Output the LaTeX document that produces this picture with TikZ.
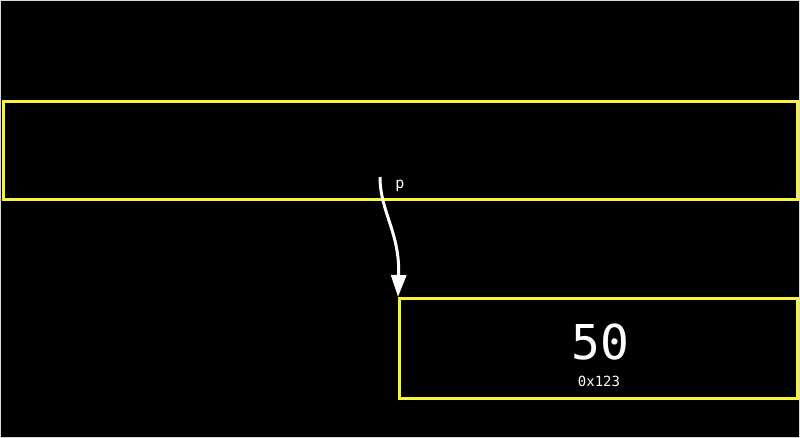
\documentclass[tikz,border=0pt]{standalone}
\usepackage{fontspec}
\setmonofont{DejaVu Sans Mono}
\usetikzlibrary{arrows.meta}
\definecolor{boxyellow}{HTML}{F8F43C}
\tikzset{
  membox/.style={draw=boxyellow, line width=3pt, fill=black, inner sep=0pt},
  ptrarrow/.style={draw=white, line width=3pt, -{Triangle[length=22pt,width=15pt]}},
  lbl/.style={text=white, font=\ttfamily, inner sep=0pt}
}
\begin{document}
\begin{tikzpicture}[x=1pt,y=-1pt]
\fill[black] (0,0) rectangle (800,438);
\draw[gray!30, line width=0.8pt] (0.4,0.4) rectangle (799.6,437.6);
\useasboundingbox (0,0) rectangle (800,438);
\node[membox, minimum width=794pt, minimum height=98pt] (row) at (400.5,150.5) {};
\node[membox, minimum width=398pt, minimum height=100pt] (cell) at (598.5,348.5) {};
\node[lbl, font=\ttfamily\fontsize{48}{48}\selectfont] (val) at (600,342) {50};
\node[lbl, font=\ttfamily\fontsize{14}{14}\selectfont] (addr) at (599,381) {0x123};
\node[lbl, font=\ttfamily\fontsize{15}{15}\selectfont] (plabel) at (400,186) {p};
\coordinate (start) at (380,177);
\draw[ptrarrow] (start) .. controls (380,212) and (400,232) .. (cell.north west);
\end{tikzpicture}
\end{document}
